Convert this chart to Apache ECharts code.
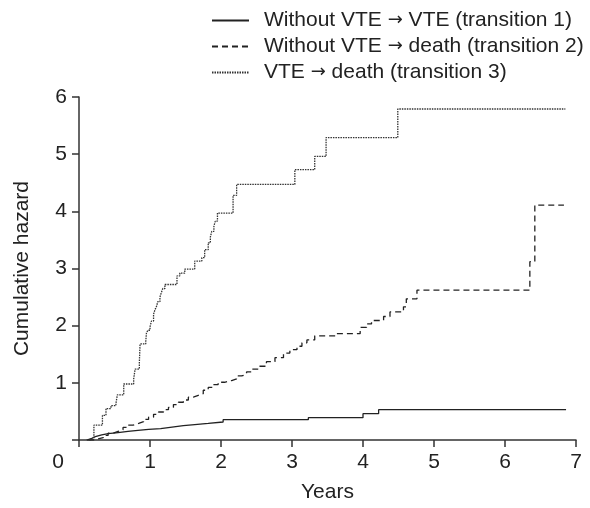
<!DOCTYPE html>
<html>
<head>
<meta charset="utf-8">
<script src="https://cdn.jsdelivr.net/npm/echarts@6/dist/echarts.min.js"></script>
<style>html,body{margin:0;padding:0;background:#fff;}#c{width:590px;height:508px;}</style>
</head>
<body>
<div id="c"></div>
<script>
var seriesNames = ['Without VTE \u2192 VTE (transition 1)', 'Without VTE \u2192 death (transition 2)', 'VTE \u2192 death (transition 3)'];
var xTicks = [0, 1, 2, 3, 4, 5, 6, 7];
var yTicks = [0, 1, 2, 3, 4, 5, 6];
var xTitle = 'Years';
var yTitle = 'Cumulative hazard';

// [time (years), cumulative hazard] step points
var transition1 = [[0.11,0],[0.13,0.03],[0.18,0.06],[0.23,0.09],[0.32,0.11],[0.41,0.13],[0.55,0.15],[0.69,0.17],[0.83,0.185],[0.98,0.20],[1.15,0.225],[1.31,0.25],[1.47,0.27],[1.63,0.29],[1.82,0.315],[2.03,0.355],[3.23,0.39],[4.0,0.46],[4.22,0.53],[6.86,0.53]];
var transition2 = [[0.13,0],[0.2,0.02],[0.27,0.04],[0.34,0.08],[0.41,0.12],[0.48,0.15],[0.55,0.18],[0.62,0.22],[0.69,0.26],[0.76,0.29],[0.84,0.32],[0.91,0.36],[0.98,0.40],[1.05,0.45],[1.12,0.49],[1.19,0.53],[1.26,0.57],[1.33,0.62],[1.40,0.66],[1.47,0.70],[1.54,0.75],[1.61,0.78],[1.68,0.81],[1.75,0.87],[1.82,0.92],[1.89,0.97],[1.96,1.01],[2.05,1.04],[2.15,1.07],[2.22,1.12],[2.29,1.15],[2.36,1.19],[2.43,1.24],[2.52,1.29],[2.64,1.37],[2.76,1.44],[2.88,1.52],[2.97,1.58],[3.07,1.64],[3.14,1.70],[3.21,1.75],[3.32,1.82],[3.63,1.86],[3.96,1.97],[4.05,2.03],[4.12,2.09],[4.29,2.16],[4.38,2.24],[4.57,2.33],[4.61,2.47],[4.76,2.62],[6.35,3.12],[6.42,4.11],[6.83,4.11]];
var transition3 = [[0.11,0],[0.16,0.03],[0.21,0.26],[0.33,0.43],[0.38,0.55],[0.45,0.60],[0.52,0.64],[0.54,0.79],[0.63,0.98],[0.77,1.07],[0.79,1.24],[0.85,1.35],[0.86,1.68],[0.94,1.72],[0.95,1.87],[0.97,1.92],[1.0,1.98],[1.02,2.08],[1.05,2.20],[1.07,2.28],[1.09,2.33],[1.11,2.42],[1.14,2.50],[1.16,2.58],[1.18,2.65],[1.21,2.72],[1.38,2.87],[1.42,2.92],[1.49,2.99],[1.63,3.13],[1.73,3.19],[1.77,3.33],[1.82,3.45],[1.85,3.55],[1.87,3.65],[1.90,3.74],[1.92,3.83],[1.95,3.97],[2.17,4.28],[2.22,4.47],[3.04,4.73],[3.32,4.96],[3.48,5.29],[4.49,5.79],[6.85,5.79]];

var FONT = '"Liberation Sans", Arial, sans-serif';
var FS = 21;
var chart = echarts.init(document.getElementById('c'), null, {renderer: 'canvas'});
var axisColor = '#333';
chart.setOption({
  animation: false,
  backgroundColor: '#fff',
  textStyle: {fontFamily: FONT},
  grid: {left: 79, right: 14, top: 97, bottom: 63, containLabel: false},
  legend: {
    orient: 'vertical', left: 211, top: 10, padding: 0,
    itemWidth: 37, itemHeight: 10, itemGap: 5,
    data: seriesNames,
    itemStyle: {opacity: 0},
    formatter: function (name) {
      var parts = name.split('\u2192');
      return parts[0] + '{a|\u2192}' + parts[1];
    },
    textStyle: {
      fontSize: FS, color: '#222', fontFamily: FONT, padding: [0, 0, 0, 10],
      rich: {a: {fontSize: 18, fontFamily: '"DejaVu Sans", sans-serif', color: '#222'}}
    }
  },
  xAxis: {
    type: 'value', min: xTicks[0], max: xTicks[xTicks.length - 1], interval: 1,
    name: xTitle, nameLocation: 'middle', nameGap: 42,
    nameTextStyle: {fontSize: FS, color: '#222', fontFamily: FONT},
    axisLine: {show: true, onZero: false, lineStyle: {color: axisColor, width: 1.5}},
    axisTick: {show: true, length: 7, lineStyle: {color: axisColor, width: 1.5}},
    splitLine: {show: false},
    axisLabel: {
      fontSize: FS, color: '#222', margin: 12, fontFamily: FONT,
      formatter: function (v) { return v === 0 ? '{z|0}' : String(v); },
      rich: {z: {fontSize: FS, color: '#222', fontFamily: FONT, padding: [0, 42, 0, 0]}}
    }
  },
  yAxis: {
    type: 'value', min: yTicks[0], max: yTicks[yTicks.length - 1], interval: 1,
    name: yTitle, nameLocation: 'middle', nameGap: 46, nameRotate: 90,
    nameTextStyle: {fontSize: FS, color: '#222', fontFamily: FONT},
    axisLine: {show: true, lineStyle: {color: axisColor, width: 1.5}},
    axisTick: {show: true, length: 7, lineStyle: {color: axisColor, width: 1.5}},
    splitLine: {show: false},
    axisLabel: {
      fontSize: FS, color: '#222', margin: 12, fontFamily: FONT,
      formatter: function (v) { return v === 0 ? '' : String(v); }
    }
  },
  series: [
    {name: seriesNames[0], type: 'line', step: 'end', symbol: 'none', data: transition1,
     lineStyle: {color: '#222', width: 1.3, type: 'solid'}, itemStyle: {color: '#222'}},
    {name: seriesNames[1], type: 'line', step: 'end', symbol: 'none', data: transition2,
     lineStyle: {color: '#222', width: 1.3, type: [6, 4]}, itemStyle: {color: '#222'}},
    {name: seriesNames[2], type: 'line', step: 'end', symbol: 'none', data: transition3,
     lineStyle: {color: '#333', width: 1.3, type: [1.5, 1]}, itemStyle: {color: '#333'}}
  ]
});
</script>
</body>
</html>
